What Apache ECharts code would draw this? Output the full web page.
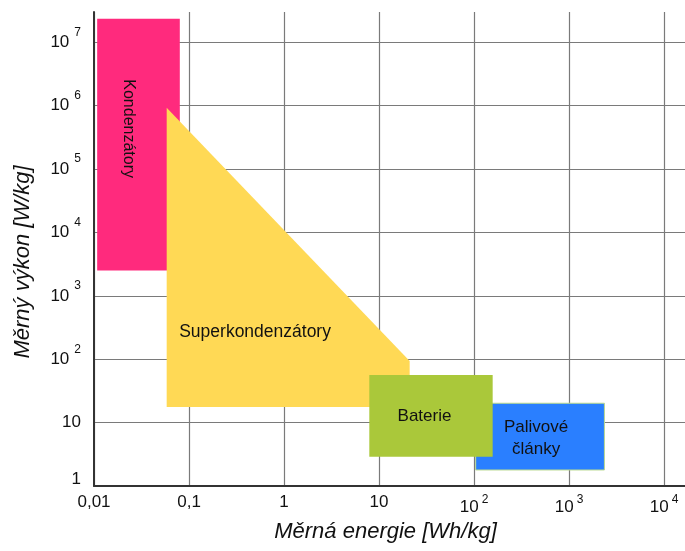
<!DOCTYPE html>
<html>
<head>
<meta charset="utf-8">
<script src="https://cdn.jsdelivr.net/npm/echarts@6/dist/echarts.min.js"></script>
<style>
  html, body { margin: 0; padding: 0; background: #ffffff; }
  #chart { width: 685px; height: 551px; }
</style>
</head>
<body>
<div id="chart"></div>
<script>
// Ragoneův diagram: měrný výkon vs. měrná energie zdrojů energie (log-log)

// Tick labels indexed by decade exponent
const xTickExponents = [-2, -1, 0, 1, 2, 3, 4];
const xTickLabels = ['0,01', '0,1', '1', '10', '10{s|2}', '10{s|3}', '10{s|4}'];
const yTickExponents = [0, 1, 2, 3, 4, 5, 6, 7];
const yTickLabels = ['1', '10', '10{s|2}', '10{s|3}', '10{s|4}', '10{s|5}', '10{s|6}', '10{s|7}'];

// Region names
const regionNames = ['Kondenzátory', 'Superkondenzátory', 'Baterie', 'Palivové\nčlánky'];

// Rectangular regions: energy [Wh/kg] from..to, power [W/kg] from..to
const kondenzatoryEnergy = [0.0108, 0.08];
const kondenzatoryPower = [2510, 2.34e7];
const baterieEnergy = [7.9, 157];
const bateriePower = [2.9, 56.6];
const palivoveEnergy = [104, 2355];
const palivovePower = [1.79, 20.2];

// Superkondenzátory: polygon vertices (apex, right top, right bottom, left bottom)
const superEnergy = [0.0582, 21, 21, 0.0582];
const superPower = [9.3e5, 94, 17.7, 17.7];

const FONT = "'Liberation Sans', Arial, Helvetica, sans-serif";

function tickText(value, exps, labels, lowFirst) {
  const e = Math.log10(value);
  const r = Math.round(e);
  if (Math.abs(e - r) > 1e-6) return '';
  const i = exps.indexOf(r);
  if (i < 0) return '';
  // the lowest label sits slightly above the corner
  return (lowFirst && i === 0) ? '{lo|' + labels[i] + '}' : labels[i];
}

function rectRenderer(color, name, opts) {
  return function (params, api) {
    const tl = api.coord([api.value(0), api.value(3)]);
    const br = api.coord([api.value(1), api.value(2)]);
    const cx = (tl[0] + br[0]) / 2 + (opts.dx || 0);
    const cy = (tl[1] + br[1]) / 2 + (opts.dy || 0);
    return {
      type: 'group',
      children: [
        {
          type: 'rect',
          shape: { x: tl[0], y: tl[1], width: br[0] - tl[0], height: br[1] - tl[1] },
          style: { fill: color, stroke: opts.stroke || null, lineWidth: opts.stroke ? 1 : 0 }
        },
        {
          type: 'text',
          x: cx,
          y: cy,
          rotation: opts.rotation || 0,
          style: {
            text: name,
            fill: '#111111',
            font: (opts.fontSize || 17) + 'px ' + FONT,
            align: 'center',
            verticalAlign: 'middle',
            lineHeight: 22
          }
        }
      ]
    };
  };
}

function polygonRenderer(color, name) {
  return function (params, api) {
    const pts = [];
    for (let i = 0; i < 4; i++) {
      pts.push(api.coord([api.value(i), api.value(4 + i)]));
    }
    const left = pts[0][0];
    const bottom = pts[3][1];
    return {
      type: 'group',
      children: [
        { type: 'polygon', shape: { points: pts }, style: { fill: color } },
        {
          type: 'text',
          x: left + 12.5,
          y: bottom - 75,
          style: {
            text: name,
            fill: '#111111',
            font: '17.5px ' + FONT,
            align: 'left',
            verticalAlign: 'middle'
          }
        }
      ]
    };
  };
}

const chart = echarts.init(document.getElementById('chart'), null, { renderer: 'canvas' });

const supStyle = { fontSize: 12, fontFamily: FONT, color: '#111111', padding: [0, 0, 18, 0] };

chart.setOption({
  animation: false,
  backgroundColor: '#ffffff',
  grid: { left: 94, right: 0, top: 12, bottom: 65, containLabel: false },
  xAxis: {
    type: 'log',
    logBase: 10,
    min: 0.01,
    max: 16600,
    name: 'Měrná energie [Wh/kg]',
    nameLocation: 'middle',
    nameGap: 34,
    nameTextStyle: { fontFamily: FONT, fontSize: 22, fontStyle: 'italic', color: '#111111', padding: [0, 8, 0, 0] },
    axisLine: { show: true, onZero: false, lineStyle: { color: '#333333', width: 2 } },
    axisTick: { show: false },
    axisLabel: {
      margin: 8,
      showMaxLabel: false,
      formatter: v => tickText(v, xTickExponents, xTickLabels, false),
      fontFamily: FONT,
      fontSize: 17,
      color: '#111111',
      rich: { s: Object.assign({}, supStyle, { padding: [0, 0, 14, 3] }) }
    },
    splitLine: { show: true, showMaxLine: false, lineStyle: { color: '#7a7a7a', width: 1.2 } },
    minorSplitLine: { show: false }
  },
  yAxis: {
    type: 'log',
    logBase: 10,
    min: 1,
    max: 3.0e7,
    name: 'Měrný výkon [W/kg]',
    nameLocation: 'middle',
    nameGap: 60,
    nameTextStyle: { fontFamily: FONT, fontSize: 22, fontStyle: 'italic', color: '#111111', padding: [0, 26, 0, 0] },
    axisLine: { show: true, onZero: false, lineStyle: { color: '#333333', width: 2 } },
    axisTick: { show: false },
    axisLabel: {
      margin: 13,
      showMaxLabel: false,
      formatter: v => tickText(v, yTickExponents, yTickLabels, true),
      fontFamily: FONT,
      fontSize: 17,
      color: '#111111',
      rich: {
        s: Object.assign({}, supStyle, { padding: [0, 0, 20, 5] }),
        lo: { fontSize: 17, fontFamily: FONT, color: '#111111', padding: [0, 0, 14, 0] }
      }
    },
    splitLine: { show: true, showMaxLine: false, lineStyle: { color: '#7a7a7a', width: 1.2 } }
  },
  series: [
    {
      type: 'custom',
      name: regionNames[0],
      renderItem: rectRenderer('#ff2a7d', regionNames[0], { rotation: -Math.PI / 2, fontSize: 16, dx: -10, dy: -16 }),
      encode: { x: [0, 1], y: [2, 3] },
      data: [[kondenzatoryEnergy[0], kondenzatoryEnergy[1], kondenzatoryPower[0], kondenzatoryPower[1]]],
      z: 2
    },
    {
      type: 'custom',
      name: regionNames[1],
      renderItem: polygonRenderer('#ffd955', regionNames[1]),
      encode: { x: [0, 1, 2, 3], y: [4, 5, 6, 7] },
      data: [superEnergy.concat(superPower)],
      z: 3
    },
    {
      type: 'custom',
      name: regionNames[3],
      renderItem: rectRenderer('#2a7fff', regionNames[3], { stroke: '#b9d98e', dx: -4, dy: 2 }),
      encode: { x: [0, 1], y: [2, 3] },
      data: [[palivoveEnergy[0], palivoveEnergy[1], palivovePower[0], palivovePower[1]]],
      z: 4
    },
    {
      type: 'custom',
      name: regionNames[2],
      renderItem: rectRenderer('#aac83a', regionNames[2], { dx: -6.5, dy: 1 }),
      encode: { x: [0, 1], y: [2, 3] },
      data: [[baterieEnergy[0], baterieEnergy[1], bateriePower[0], bateriePower[1]]],
      z: 5
    }
  ]
});
</script>
</body>
</html>
